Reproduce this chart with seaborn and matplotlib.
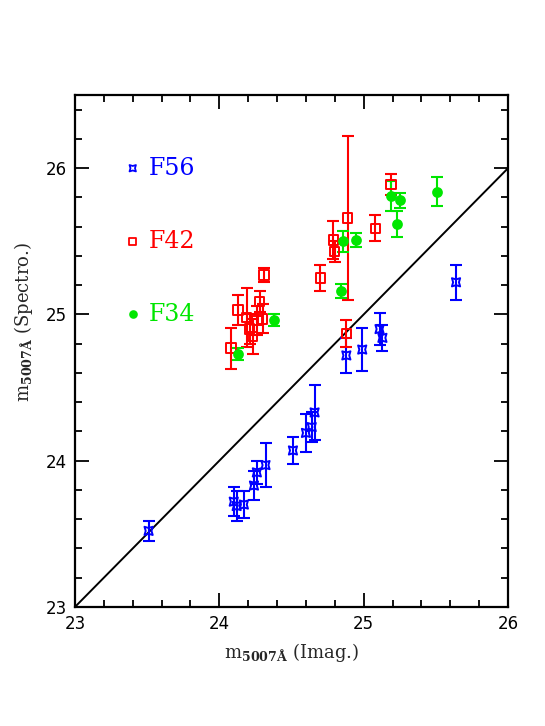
import matplotlib
matplotlib.use('Agg')
import matplotlib.pyplot as plt
from matplotlib.ticker import MultipleLocator
import seaborn as sns
import pandas as pd

# F56 (blue)
f56_x = [23.51, 24.10, 24.12, 24.17, 24.24, 24.26, 24.32, 24.51, 24.60, 24.64, 24.66, 24.88, 24.99, 25.11, 25.13, 25.64]
f56_y = [23.52, 23.72, 23.69, 23.70, 23.83, 23.92, 23.97, 24.07, 24.19, 24.23, 24.33, 24.72, 24.76, 24.90, 24.84, 25.22]
f56_e = [0.07, 0.10, 0.10, 0.09, 0.10, 0.08, 0.15, 0.09, 0.13, 0.10, 0.19, 0.12, 0.15, 0.11, 0.09, 0.12]

# F42 (red)
f42_x = [24.08, 24.13, 24.19, 24.21, 24.23, 24.26, 24.28, 24.30, 24.31, 24.70, 24.79, 24.80, 24.89, 24.88, 25.08, 25.19]
f42_y = [24.77, 25.03, 24.98, 24.90, 24.85, 24.96, 25.09, 24.97, 25.27, 25.25, 25.51, 25.43, 25.66, 24.87, 25.59, 25.89]
f42_e = [0.14, 0.10, 0.20, 0.10, 0.12, 0.10, 0.07, 0.10, 0.05, 0.09, 0.13, 0.07, 0.56, 0.09, 0.09, 0.07]

# F34 (green)
f34_x = [24.13, 24.38, 24.84, 24.86, 24.95, 25.19, 25.25, 25.23, 25.51]
f34_y = [24.73, 24.96, 25.16, 25.50, 25.51, 25.81, 25.78, 25.62, 25.84]
f34_e = [0.04, 0.04, 0.05, 0.07, 0.05, 0.10, 0.05, 0.09, 0.10]

labels = ['F56', 'F42', 'F34']
key_x = 23.4
key_y = [26.0, 25.5, 25.0]
diag = [23, 26]

sns.set_style('ticks')
plt.rcParams['mathtext.fontset'] = 'dejavuserif'

fig = plt.figure(figsize=(5.45, 7.26), dpi=100)
ax = fig.add_axes([0.1376, 0.164, 0.7945, 0.705])

sns.lineplot(x=diag, y=diag, color='black', lw=1.4, ax=ax)

series = [
    (f56_x, f56_y, f56_e, 'blue', (4, 1, 45), 'none', 70),
    (f42_x, f42_y, f42_e, 'red', 's', 'none', 45),
    (f34_x, f34_y, f34_e, '#00e600', 'o', '#00e600', 40),
]
for (x, y, e, c, m, fc, s), lab, ky in zip(series, labels, key_y):
    ax.errorbar(x, y, yerr=e, fmt='none', ecolor=c, elinewidth=1.5,
                capsize=4, capthick=1.5, zorder=2)
    df = pd.DataFrame({'x': x, 'y': y})
    sns.scatterplot(data=df, x='x', y='y', marker=m, s=s, facecolor=fc,
                    edgecolor=c, linewidth=1.4, ax=ax, zorder=3)
    sns.scatterplot(x=[key_x], y=[ky], marker=m, s=s * 0.6, facecolor=fc,
                    edgecolor=c, linewidth=1.3, ax=ax, zorder=3)
    ax.text(key_x + 0.11, ky, lab, color=c, fontsize=17,
            family='DejaVu Serif', va='center', ha='left')

ax.set_xlim(23, 26)
ax.set_ylim(23, 26.5)
ax.xaxis.set_major_locator(MultipleLocator(1))
ax.yaxis.set_major_locator(MultipleLocator(1))
ax.xaxis.set_minor_locator(MultipleLocator(0.2))
ax.yaxis.set_minor_locator(MultipleLocator(0.2))
ax.tick_params(which='both', direction='in', top=True, right=True, width=1.3,
               labelsize=12, colors='black')
ax.tick_params(which='major', length=10, pad=6)
ax.tick_params(which='minor', length=5)
for sp in ax.spines.values():
    sp.set_linewidth(1.6)
    sp.set_color('black')

ax.set_xlabel(r'm$_{\mathbf{5007\AA}}$ (Imag.)', fontsize=13, family='DejaVu Serif')
ax.set_ylabel(r'm$_{\mathbf{5007\AA}}$ (Spectro.)', fontsize=13, family='DejaVu Serif')
ax.xaxis.set_label_coords(0.5, -0.067)
ax.yaxis.set_label_coords(-0.092, 0.557)

fig.savefig('out.png', dpi=100)
